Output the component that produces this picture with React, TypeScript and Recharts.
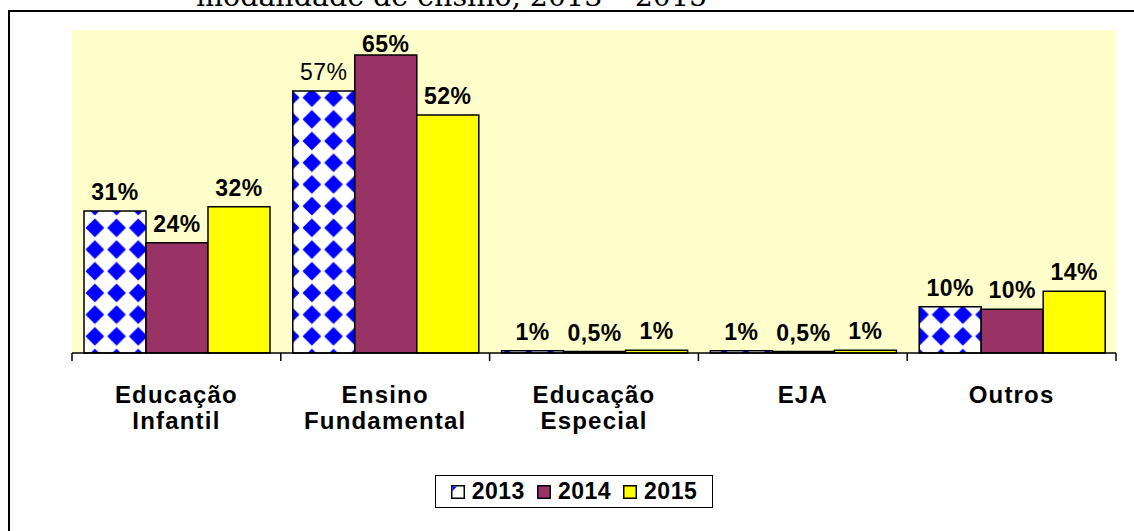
import React from 'react';
import { BarChart, Bar, XAxis, YAxis, CartesianGrid, LabelList } from 'recharts';

const categories = ['Educação Infantil', 'Ensino Fundamental', 'Educação Especial', 'EJA', 'Outros'];
const v2013 = [30.8, 56.8, 0.5, 0.5, 10.0];
const v2014 = [23.9, 64.6, 0.3, 0.3, 9.5];
const v2015 = [31.7, 51.6, 0.6, 0.6, 13.4];
const l2013 = ['31%', '57%', '1%', '1%', '10%'];
const l2014 = ['24%', '65%', '0,5%', '0,5%', '10%'];
const l2015 = ['32%', '52%', '1%', '1%', '14%'];
const years = ['2013', '2014', '2015'];

const data = categories.map((c, i) => ({ name: c, a: v2013[i], b: v2014[i], c: v2015[i] }));

const FONT = 'Liberation Sans, Arial, sans-serif';

// labels sit above the bars, kept inside the plot top like excel does
const makeLabel = (labels: string[]) => (props: any) => {
  const { x, y, width, index } = props;
  const txt = labels[index];
  const plain = txt === '57%';
  return (
    <text x={x + width / 2} y={Math.max(y - 11, 52)} textAnchor="middle" fontFamily={FONT} fontSize={23}
      letterSpacing={0.5} fontWeight={plain ? 'normal' : 'bold'} fill="#000">{txt}</text>
  );
};

const Tick = (props: any) => {
  const { x, y, payload, index } = props;
  const half = payload && payload.offset ? payload.offset : 104.4;
  const words = String(payload.value).split(' ');
  return (
    <g>
      <line x1={x - half} y1={y} x2={x - half} y2={y + 8} stroke="#000" strokeWidth={1.5} />
      {index === categories.length - 1 && (
        <line x1={x + half} y1={y} x2={x + half} y2={y + 8} stroke="#000" strokeWidth={1.5} />
      )}
      {words.map((w, i) => (
        <text key={i} x={x} y={y + 50 + i * 26} textAnchor="middle" fontFamily={FONT} fontSize={24}
          letterSpacing={1.2} fontWeight="bold" fill="#000">{w}</text>
      ))}
    </g>
  );
};

export default function App() {
  return (
    <div style={{ position: 'absolute', left: 0, top: 0, width: 1134, height: 531, overflow: 'hidden', background: '#fff' }}>
      <div style={{ position: 'absolute', left: 196, top: -17, fontFamily: 'DejaVu Serif, serif', fontSize: 28.5, whiteSpace: 'nowrap', lineHeight: '28px' }}>
        modalidade de ensino, 2013 – 2015
      </div>
      <div style={{ position: 'absolute', left: 8, top: 10, width: 1200, height: 600, border: '2px solid #000', boxSizing: 'border-box' }} />
      <div style={{ position: 'absolute', left: 0, top: 0 }}>
        <BarChart width={1134} height={531} data={data} margin={{ top: 30, right: 18, left: 72, bottom: 78 }}
          barCategoryGap={12} barGap={0}>
          <defs>
            <pattern id="diam" width="21.7" height="21.7" patternUnits="userSpaceOnUse" x="84" y="0">
              <rect width="21.7" height="21.7" fill="#fff" />
              <polygon points="10.85,1.5 20.2,10.85 10.85,20.2 1.5,10.85" fill="#0000FF" />
            </pattern>
          </defs>
          <CartesianGrid fill="#FFFFCC" stroke="none" vertical={false} horizontal={false} />
          <YAxis hide domain={[0, 70]} />
          <XAxis dataKey="name" height={100} tickSize={0} tickMargin={0} interval={0}
            axisLine={{ stroke: '#000', strokeWidth: 1.5 }} tickLine={false} tick={<Tick />} />
          <Bar dataKey="a" fill="url(#diam)" stroke="#000" strokeWidth={1.5} isAnimationActive={false}>
            <LabelList dataKey="a" content={makeLabel(l2013)} />
          </Bar>
          <Bar dataKey="b" fill="#993366" stroke="#000" strokeWidth={1.5} isAnimationActive={false}>
            <LabelList dataKey="b" content={makeLabel(l2014)} />
          </Bar>
          <Bar dataKey="c" fill="#FFFF00" stroke="#000" strokeWidth={1.5} isAnimationActive={false}>
            <LabelList dataKey="c" content={makeLabel(l2015)} />
          </Bar>
        </BarChart>
      </div>
      <div style={{ position: 'absolute', left: 435, top: 475, width: 278, height: 33, border: '1.5px solid #000', boxSizing: 'border-box',
        display: 'flex', alignItems: 'center', justifyContent: 'center', gap: 12, fontFamily: FONT, fontWeight: 'bold', fontSize: 23, letterSpacing: 0.5, background: '#fff' }}>
        {years.map((yr, i) => (
          <span key={yr} style={{ display: 'flex', alignItems: 'center', gap: 7 }}>
            <svg width={14} height={14}>
              <rect x={0.75} y={0.75} width={12.5} height={12.5} stroke="#000" strokeWidth={1.5}
                fill={i === 0 ? '#fff' : i === 1 ? '#993366' : '#FFFF00'} />
              {i === 0 && <polygon points="1.5,1.5 6,1.5 1.5,6" fill="#0000FF" />}
            </svg>
            {yr}
          </span>
        ))}
      </div>
    </div>
  );
}
